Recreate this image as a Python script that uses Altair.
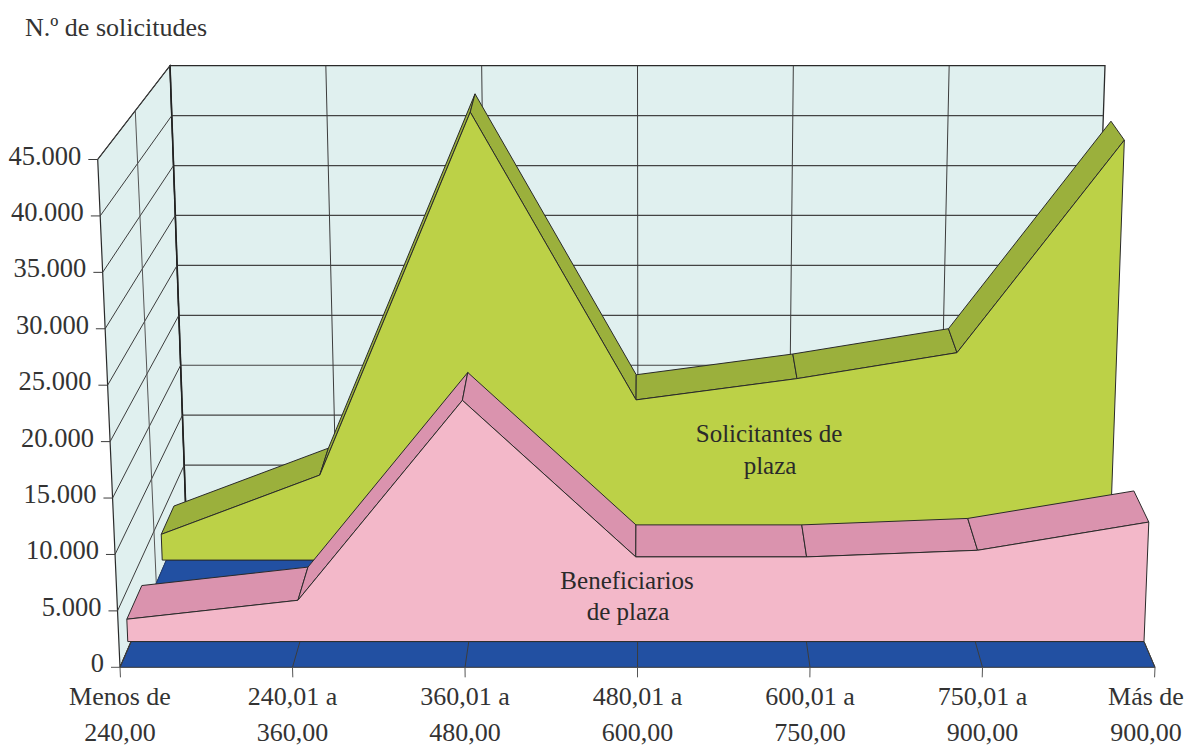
import altair as alt
import pandas as pd

# ---- chart values ----
TITLE = "N.º de solicitudes"
CAT_LINE1 = ["Menos de", "240,01 a", "360,01 a", "480,01 a", "600,01 a", "750,01 a", "Más de"]
CAT_LINE2 = ["240,00", "360,00", "480,00", "600,00", "750,00", "900,00", "900,00"]
Y_TICKS = [0, 5000, 10000, 15000, 20000, 25000, 30000, 35000, 40000, 45000]
Y_LABELS = ["0", "5.000", "10.000", "15.000", "20.000", "25.000", "30.000", "35.000", "40.000", "45.000"]
SOLICITANTES = [2480, 8200, 43200, 15450, 17500, 20000, 40500]
BENEFICIARIOS = [2020, 3730, 21800, 7650, 7650, 8250, 10800]
GREEN_POS = [-0.027, 0.99, 1.973, 2.99, 4, 5, 6]
PINK_POS = [-0.02, 0.995, 1.984, 2.99, 3.995, 5, 6]

# ---- oblique view of the 3D box (corner positions of the box) ----
VMAX = 45000
FRONT = dict(xl0=120, xr0=1155, xl1=97.7, xr1=1176, y0=667.3, y1=159.5)
BACK = dict(xl0=186, xr0=1090, xl1=170, xr1=1105, y0=515, y1=65.7)
PINK_D = (0.169, 0.394)
GREEN_D = (0.704, 0.894)
PINK_RIM = (0.0, 0.169)
GREEN_RIM = (0.55, 0.704)


def plane(P, u, v):
    t = v / VMAX
    xl = P["xl0"] + (P["xl1"] - P["xl0"]) * t
    xr = P["xr0"] + (P["xr1"] - P["xr0"]) * t
    return xl + (xr - xl) * u / 6, P["y0"] + (P["y1"] - P["y0"]) * t


def proj(u, v, d):
    fx, fy = plane(FRONT, u, v)
    bx, by = plane(BACK, u, v)
    return fx + (bx - fx) * d, fy + (by - fy) * d


def frame(shapes):
    rows = []
    for k, pts in enumerate(shapes):
        for s, (x, y) in enumerate(pts):
            rows.append({"x": x, "y": y, "id": k, "seq": s})
    return pd.DataFrame(rows)


W, H = 1176, 739
XS = alt.Scale(domain=[8, 8 + W], nice=False, zero=False)
YS = alt.Scale(domain=[8 + H, 8], nice=False, zero=False)


def enc(ch):
    return ch.encode(
        x=alt.X("x:Q", scale=XS, axis=None),
        y=alt.Y("y:Q", scale=YS, axis=None),
        detail="id:N",
        order="seq:Q",
    )


def polys(shapes, fill, stroke="#2a2a2a", sw=1.0):
    return enc(alt.Chart(frame(shapes)).mark_line(
        interpolate="linear-closed", fill=fill, stroke=stroke, strokeWidth=sw, fillOpacity=1))


def lines(shapes, stroke="#3c3c3c", sw=1.0):
    return enc(alt.Chart(frame(shapes)).mark_line(
        interpolate="linear", stroke=stroke, strokeWidth=sw))


def texts(rows, align="center", size=25, color="#333333"):
    return alt.Chart(pd.DataFrame(rows)).mark_text(
        align=align, baseline="middle", font="Liberation Serif", fontSize=size, color=color
    ).encode(x=alt.X("x:Q", scale=XS, axis=None), y=alt.Y("y:Q", scale=YS, axis=None), text="t:N")


def series_shapes(vals, depth, us):
    d0, d1 = depth
    face = [proj(u, v, d0) for u, v in zip(us, vals)]
    face += [proj(us[-1], 0, d0), proj(us[0], 0, d0)]
    strips = []
    for i in range(6):
        strips.append([
            proj(us[i], vals[i], d0), proj(us[i + 1], vals[i + 1], d0),
            proj(us[i + 1], vals[i + 1], d1), proj(us[i], vals[i], d1),
        ])
    return face, strips


def rim(depth):
    d0, d1 = depth
    return [[proj(0, 0, d0), proj(6, 0, d0), proj(6, 0, d1), proj(0, 0, d1)]]


WALL = "#e0f0ef"
BLUE = "#2250a2"
back_wall = [proj(0, 0, 1), proj(0, VMAX, 1), proj(6, VMAX, 1), proj(6, 0, 1)]
side_wall = [proj(0, 0, 0), proj(0, VMAX, 0), proj(0, VMAX, 1), proj(0, 0, 1)]

h_grid = [[proj(0, v, 1), proj(6, v, 1)] for v in Y_TICKS[1:-1]]
v_grid = [[proj(i, 0, 1), proj(i, VMAX, 1)] for i in range(1, 6)]
back_left = [[proj(0, 0, 1), proj(0, VMAX, 1)]]
side_grid = [[proj(-9 / 172.5, v, 0), proj(0, v, 0), proj(0, v, 1)] for v in Y_TICKS[1:]]
side_mid = [[proj(0, 0, 0.55), proj(0, VMAX, 0.52)]]
floor_ticks = [[proj(i, 0, 0), proj(i, 0, PINK_RIM[1])] for i in range(7)]
stub_ticks = [[proj(i, -890, 0), proj(i, 0, 0)] for i in range(7)]
zero_tick = [[proj(-9 / 172.5, 0, 0), proj(0, 0, 0)]]

g_face, g_strips = series_shapes(SOLICITANTES, GREEN_D, GREEN_POS)
p_face, p_strips = series_shapes(BENEFICIARIOS, PINK_D, PINK_POS)

y_rows = []
for v, lab in zip(Y_TICKS, Y_LABELS):
    x, y = proj(-9 / 172.5, v, 0)
    y_rows.append({"x": x - 7, "y": y - 3, "t": lab})

AXIS_Y1, AXIS_Y2 = 697, 733
LAST_X = 1146  # last category is kept inside the page
cat_rows = []
for i, (a, b) in enumerate(zip(CAT_LINE1, CAT_LINE2)):
    x, _ = proj(i, 0, 0)
    x = min(x, LAST_X)
    cat_rows.append({"x": x, "y": AXIS_Y1, "t": a})
    cat_rows.append({"x": x, "y": AXIS_Y2, "t": b})

series_rows = [
    {"x": 769, "y": 434, "t": "Solicitantes de"},
    {"x": 770, "y": 466, "t": "plaza"},
    {"x": 627, "y": 581, "t": "Beneficiarios"},
    {"x": 628, "y": 612, "t": "de plaza"},
]

chart = alt.layer(
    polys([side_wall], WALL, sw=1.2),
    polys([back_wall], WALL, sw=1.3),
    lines(h_grid, stroke="#444444", sw=1.2),
    lines(v_grid, sw=1.0),
    lines(back_left, stroke="#222222", sw=1.6),
    lines(side_grid, sw=1.0),
    lines(side_mid, stroke="#555555", sw=1.0),
    polys(rim(GREEN_RIM), BLUE, stroke="#1d3f80"),
    polys(g_strips, "#9bb03c"),
    polys([g_face], "#bcd147"),
    polys(rim(PINK_RIM), BLUE, stroke="#333333"),
    lines(floor_ticks),
    lines(stub_ticks, stroke="#555555"),
    lines(zero_tick, stroke="#555555"),
    polys(p_strips, "#da93ae"),
    polys([p_face], "#f3b8c9"),
    texts(y_rows, align="right", size=26.5),
    texts(cat_rows, size=26),
    texts(series_rows, color="#2a2a2a"),
    texts([{"x": 25, "y": 28, "t": TITLE}], align="left", size=26),
).properties(
    width=W, height=H, padding=0, autosize=alt.AutoSizeParams(type="none"), background="white"
).configure_view(stroke=None)

chart.save("out.html", embed_options={"renderer": "svg", "actions": False})
